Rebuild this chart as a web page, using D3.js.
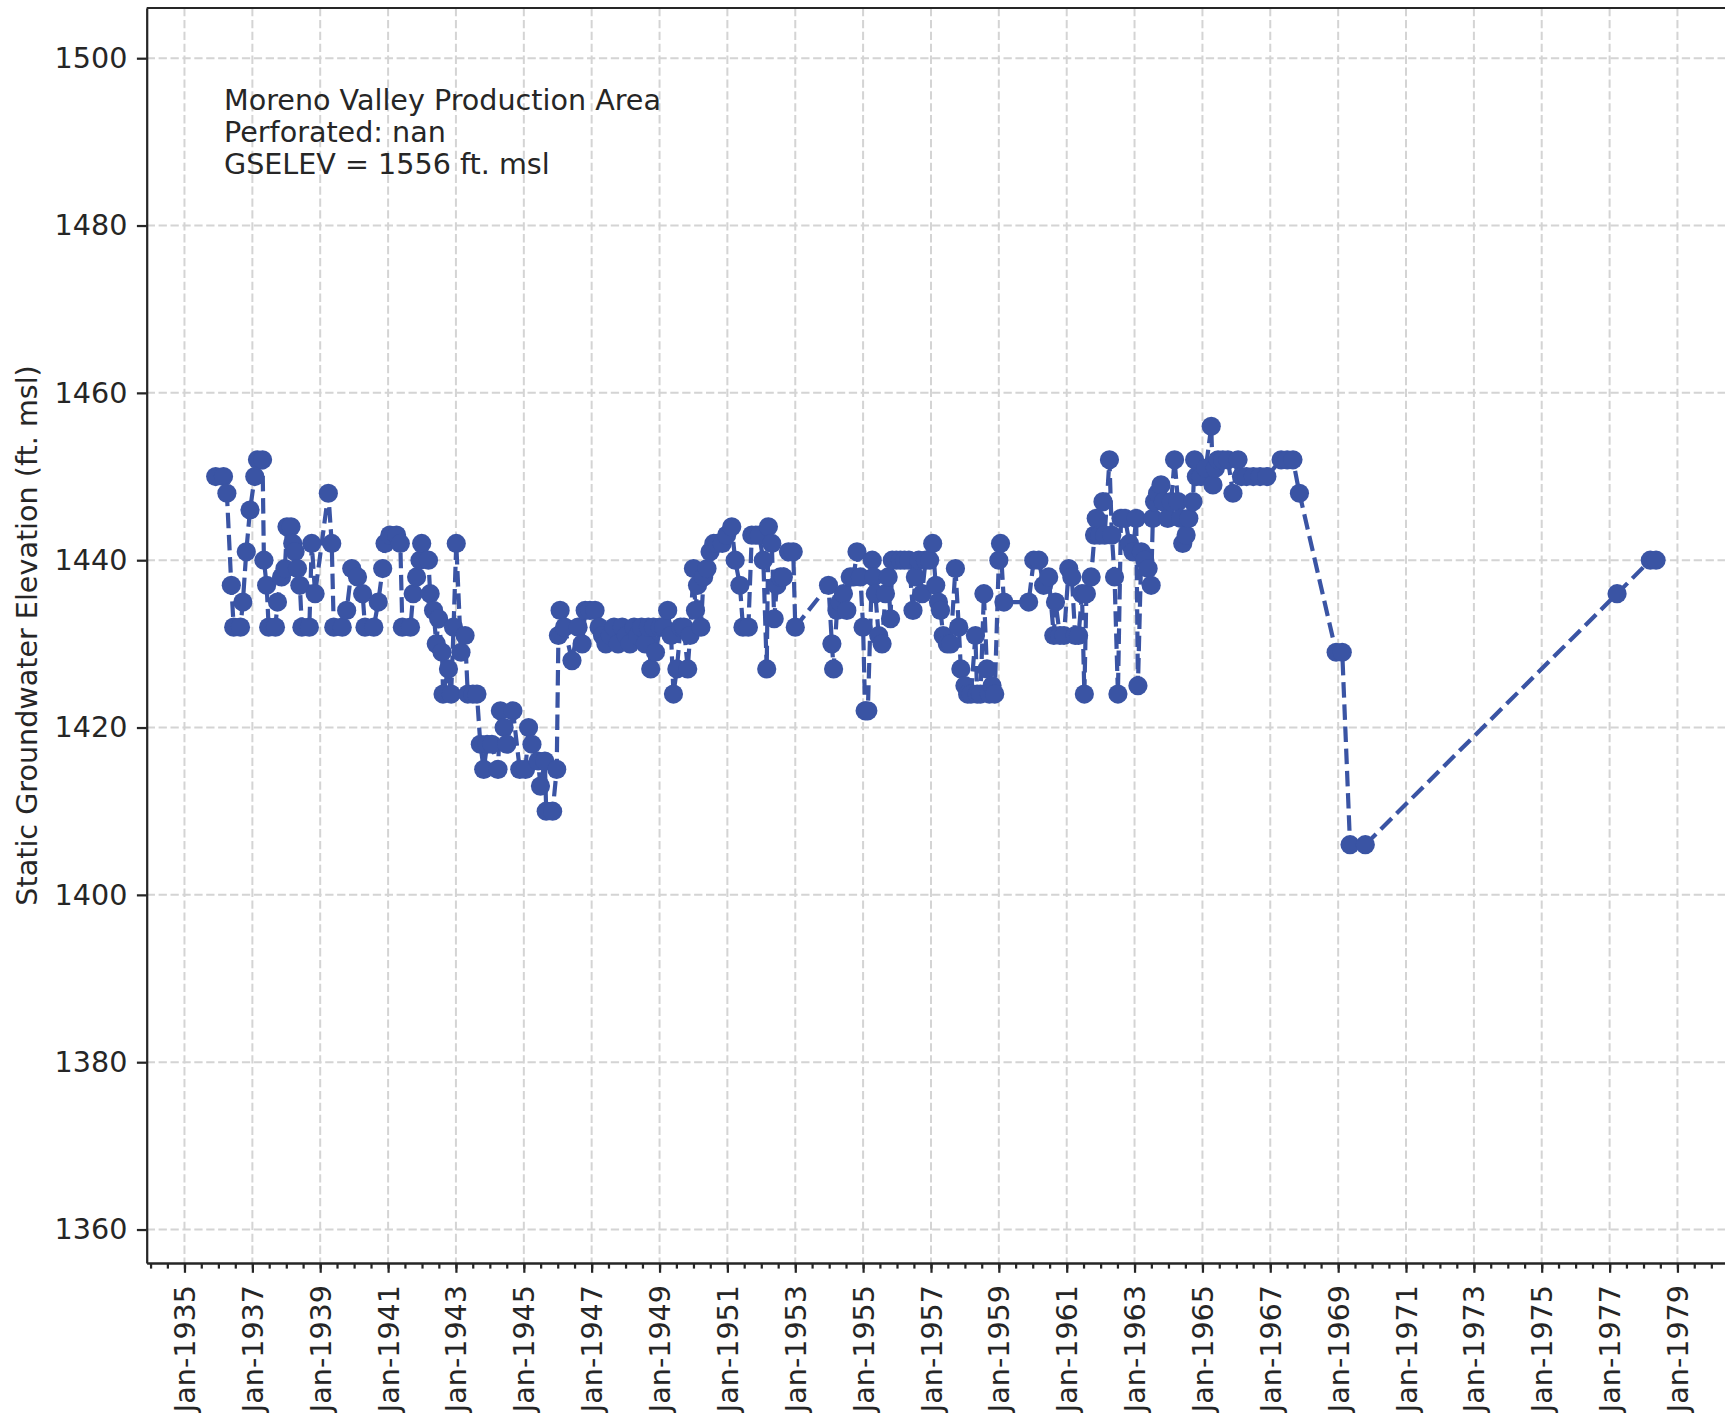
<!DOCTYPE html>
<html>
<head>
<meta charset="utf-8">
<script src="https://cdn.jsdelivr.net/npm/d3@7"></script>
<style>
  body { margin: 0; background: #fff; }
  svg { display: block; font-family: "DejaVu Sans", sans-serif; }
</style>
</head>
<body>
<svg id="chart" width="1725" height="1413"></svg>
<script>
// measurement dates, as decimal years
var years = [
  1935.92, 1936.15, 1936.25, 1936.38, 1936.45, 1936.65, 1936.72, 1936.82, 1936.93, 1937.07,
  1937.15, 1937.30, 1937.34, 1937.42, 1937.48, 1937.68, 1937.74, 1937.86, 1937.96, 1938.02,
  1938.14, 1938.19, 1938.26, 1938.33, 1938.40, 1938.46, 1938.68, 1938.75, 1938.85, 1939.24,
  1939.34, 1939.40, 1939.65, 1939.78, 1939.93, 1940.10, 1940.25, 1940.32, 1940.58, 1940.71,
  1940.84, 1940.91, 1941.05, 1941.25, 1941.36, 1941.42, 1941.66, 1941.74, 1941.84, 1941.94,
  1941.99, 1942.19, 1942.24, 1942.34, 1942.42, 1942.49, 1942.59, 1942.62, 1942.78, 1942.86,
  1942.93, 1943.01, 1943.15, 1943.27, 1943.35, 1943.50, 1943.62, 1943.72, 1943.82, 1943.92,
  1944.06, 1944.24, 1944.31, 1944.42, 1944.50, 1944.68, 1944.88, 1945.05, 1945.14, 1945.24,
  1945.42, 1945.49, 1945.62, 1945.66, 1945.85, 1945.97, 1946.02, 1946.07, 1946.20, 1946.42,
  1946.60, 1946.72, 1946.81, 1946.95, 1947.10, 1947.22, 1947.32, 1947.42, 1947.55, 1947.66,
  1947.78, 1947.90, 1948.02, 1948.13, 1948.25, 1948.36, 1948.47, 1948.58, 1948.67, 1948.74,
  1948.82, 1948.88, 1949.02, 1949.12, 1949.24, 1949.34, 1949.41, 1949.51, 1949.62, 1949.72,
  1949.83, 1949.90, 1950.00, 1950.06, 1950.12, 1950.22, 1950.30, 1950.40, 1950.49, 1950.60,
  1950.70, 1950.85, 1950.98, 1951.13, 1951.23, 1951.37, 1951.46, 1951.62, 1951.72, 1951.84,
  1951.94, 1952.06, 1952.16, 1952.21, 1952.31, 1952.38, 1952.46, 1952.56, 1952.65, 1952.80,
  1952.94, 1953.00, 1953.98, 1954.08, 1954.13, 1954.23, 1954.32, 1954.42, 1954.52, 1954.62,
  1954.72, 1954.82, 1954.92, 1955.00, 1955.06, 1955.14, 1955.27, 1955.31, 1955.36, 1955.46,
  1955.56, 1955.66, 1955.74, 1955.81, 1955.86, 1955.98, 1956.10, 1956.22, 1956.35, 1956.47,
  1956.54, 1956.64, 1956.74, 1956.84, 1956.96, 1957.05, 1957.14, 1957.22, 1957.28, 1957.36,
  1957.48, 1957.58, 1957.72, 1957.82, 1957.88, 1958.00, 1958.08, 1958.18, 1958.31, 1958.36,
  1958.46, 1958.56, 1958.65, 1958.72, 1958.80, 1958.88, 1959.00, 1959.05, 1959.15, 1959.88,
  1960.03, 1960.18, 1960.32, 1960.47, 1960.62, 1960.67, 1960.80, 1960.92, 1961.06, 1961.15,
  1961.25, 1961.35, 1961.45, 1961.52, 1961.58, 1961.72, 1961.82, 1961.87, 1961.97, 1962.07,
  1962.12, 1962.26, 1962.33, 1962.41, 1962.51, 1962.60, 1962.72, 1962.85, 1962.95, 1963.05,
  1963.10, 1963.20, 1963.30, 1963.40, 1963.49, 1963.54, 1963.59, 1963.68, 1963.78, 1963.85,
  1963.98, 1964.08, 1964.18, 1964.28, 1964.36, 1964.42, 1964.52, 1964.60, 1964.72, 1964.77,
  1964.82, 1964.96, 1965.10, 1965.26, 1965.31, 1965.38, 1965.46, 1965.60, 1965.75, 1965.90,
  1966.05, 1966.15, 1966.30, 1966.50, 1966.70, 1966.90, 1967.32, 1967.50, 1967.67, 1967.86,
  1968.94, 1969.12, 1969.35, 1969.80, 1977.22, 1978.20, 1978.37
];

// static groundwater elevation, ft. msl
var levels = [
  1450, 1450, 1448, 1437, 1432, 1432, 1435, 1441, 1446, 1450,
  1452, 1452, 1440, 1437, 1432, 1432, 1435, 1438, 1439, 1444,
  1444, 1442, 1441, 1439, 1437, 1432, 1432, 1442, 1436, 1448,
  1442, 1432, 1432, 1434, 1439, 1438, 1436, 1432, 1432, 1435,
  1439, 1442, 1443, 1443, 1442, 1432, 1432, 1436, 1438, 1440,
  1442, 1440, 1436, 1434, 1430, 1433, 1429, 1424, 1427, 1424,
  1432, 1442, 1429, 1431, 1424, 1424, 1424, 1418, 1415, 1418,
  1418, 1415, 1422, 1420, 1418, 1422, 1415, 1415, 1420, 1418,
  1416, 1413, 1416, 1410, 1410, 1415, 1431, 1434, 1432, 1428,
  1432, 1430, 1434, 1434, 1434, 1432, 1431, 1430, 1431, 1432,
  1430, 1432, 1431, 1430, 1432, 1431, 1432, 1430, 1432, 1427,
  1432, 1429, 1432, 1432, 1434, 1431, 1424, 1427, 1432, 1432,
  1427, 1431, 1439, 1434, 1437, 1432, 1438, 1439, 1441, 1442,
  1442, 1442, 1443, 1444, 1440, 1437, 1432, 1432, 1443, 1443,
  1443, 1440, 1427, 1444, 1442, 1433, 1437, 1438, 1438, 1441,
  1441, 1432, 1437, 1430, 1427, 1434, 1435, 1436, 1434, 1438,
  1438, 1441, 1438, 1432, 1422, 1422, 1440, 1438, 1436, 1431,
  1430, 1436, 1438, 1433, 1440, 1440, 1440, 1440, 1440, 1434,
  1438, 1440, 1436, 1440, 1440, 1442, 1437, 1435, 1434, 1431,
  1430, 1430, 1439, 1432, 1427, 1425, 1424, 1424, 1431, 1424,
  1424, 1436, 1427, 1424, 1425, 1424, 1440, 1442, 1435, 1435,
  1440, 1440, 1437, 1438, 1431, 1435, 1431, 1431, 1439, 1438,
  1431, 1431, 1436, 1424, 1436, 1438, 1443, 1445, 1443, 1447,
  1443, 1452, 1443, 1438, 1424, 1445, 1445, 1442, 1441, 1445,
  1425, 1441, 1440, 1439, 1437, 1445, 1447, 1448, 1449, 1447,
  1445, 1447, 1452, 1447, 1445, 1442, 1443, 1445, 1447, 1452,
  1450, 1450, 1451, 1456, 1449, 1451, 1452, 1452, 1452, 1448,
  1452, 1450, 1450, 1450, 1450, 1450, 1452, 1452, 1452, 1448,
  1429, 1429, 1406, 1406, 1436, 1440, 1440
];

var yTicks = [1360, 1380, 1400, 1420, 1440, 1460, 1480, 1500];
var noteLines = ["Moreno Valley Production Area", "Perforated: nan", "GSELEV = 1556 ft. msl"];
var yTitle = "Static Groundwater Elevation (ft. msl)";

// decimal year -> Date
function toDate(y) {
    var yr = Math.floor(y);
    var a = new Date(yr, 0, 1), b = new Date(yr + 1, 0, 1);
    return new Date(+a + (y - yr) * (b - a));
}

var data = years.map(function (d, i) { return { date: toDate(d), value: levels[i] }; });

// plot box (right edge falls just past the picture)
var plotL = 146.7, plotR = 1728, plotT = 8, plotB = 1263;
var ink = "#262626", blue = "#3a54a4";
var fs = 28.6;

var svg = d3.select("#chart");
svg.append("rect").attr("width", 1725).attr("height", 1413).attr("fill", "#fff");

var x = d3.scaleTime()
    .domain([toDate(1933.886), toDate(1980.49)])
    .range([plotL, plotR]);
var y = d3.scaleLinear()
    .domain([1356, 1506])
    .range([plotB, plotT]);

var majors = d3.timeYear.range(new Date(1935, 0, 1), new Date(1981, 0, 1), 2);
var minors = d3.timeMonth.range(new Date(1933, 6, 1), new Date(1981, 0, 1), 6)
    .filter(function (d) { return d >= x.domain()[0] && d <= x.domain()[1]; });

// grid
var grid = svg.append("g")
    .attr("stroke", "#d4d4d4")
    .attr("stroke-width", 2)
    .attr("stroke-dasharray", "8.3 3.6");
grid.selectAll("line.v")
    .data(majors)
    .enter()
    .append("line")
    .attr("class", "v")
    .attr("x1", function (d) { return x(d); })
    .attr("x2", function (d) { return x(d); })
    .attr("y1", plotT)
    .attr("y2", plotB);
grid.selectAll("line.h")
    .data(yTicks)
    .enter()
    .append("line")
    .attr("class", "h")
    .attr("x1", plotL)
    .attr("x2", plotR)
    .attr("y1", function (d) { return y(d); })
    .attr("y2", function (d) { return y(d); });

// series: dashed line, then the markers on top
var line = d3.line()
    .x(function (d) { return x(d.date); })
    .y(function (d) { return y(d.value); });

svg.append("path")
    .datum(data)
    .attr("d", line)
    .attr("fill", "none")
    .attr("stroke", blue)
    .attr("stroke-width", 4.2)
    .attr("stroke-dasharray", "15.5 6.7");

svg.append("g")
    .selectAll("circle")
    .data(data)
    .enter()
    .append("circle")
    .attr("cx", function (d) { return x(d.date); })
    .attr("cy", function (d) { return y(d.value); })
    .attr("r", 9.6)
    .attr("fill", blue);

// axes
function styleAxis(g) {
    g.selectAll("path, line").attr("stroke", ink).attr("stroke-width", 2.24);
    g.selectAll("text").attr("fill", ink).attr("font-size", fs)
        .attr("font-family", "DejaVu Sans, sans-serif");
}

svg.append("g")
    .attr("transform", "translate(0," + plotB + ")")
    .call(d3.axisBottom(x).tickValues(minors).tickSize(5.6).tickSizeOuter(0).tickFormat(""))
    .call(styleAxis);

var xAxis = svg.append("g")
    .attr("transform", "translate(0," + plotB + ")")
    .call(d3.axisBottom(x).tickValues(majors).tickSize(9.8).tickSizeOuter(0)
        .tickFormat(d3.timeFormat("%b-%Y")))
    .call(styleAxis);
xAxis.selectAll(".tick text")
    .attr("transform", "rotate(-90)")
    .attr("x", -22)
    .attr("y", 0)
    .attr("dy", "0.35em")
    .attr("text-anchor", "end");

svg.append("g")
    .attr("transform", "translate(" + plotL + ",0)")
    .call(d3.axisLeft(y).tickValues(yTicks).tickSize(9.8).tickPadding(9.5).tickSizeOuter(0)
        .tickFormat(d3.format("d")))
    .call(styleAxis);

// top spine
svg.append("line")
    .attr("x1", plotL).attr("x2", plotR)
    .attr("y1", plotT).attr("y2", plotT)
    .attr("stroke", ink).attr("stroke-width", 2.24);

// note in the upper left
svg.append("g")
    .selectAll("text")
    .data(noteLines)
    .enter()
    .append("text")
    .attr("x", 224)
    .attr("y", function (d, i) { return 110 + i * 31.8; })
    .attr("font-size", fs)
    .attr("fill", ink)
    .text(function (d) { return d; });

// y title
svg.append("text")
    .attr("transform", "translate(37," + ((plotT + plotB) / 2) + ") rotate(-90)")
    .attr("text-anchor", "middle")
    .attr("font-size", fs)
    .attr("fill", ink)
    .text(yTitle);
</script>
</body>
</html>
